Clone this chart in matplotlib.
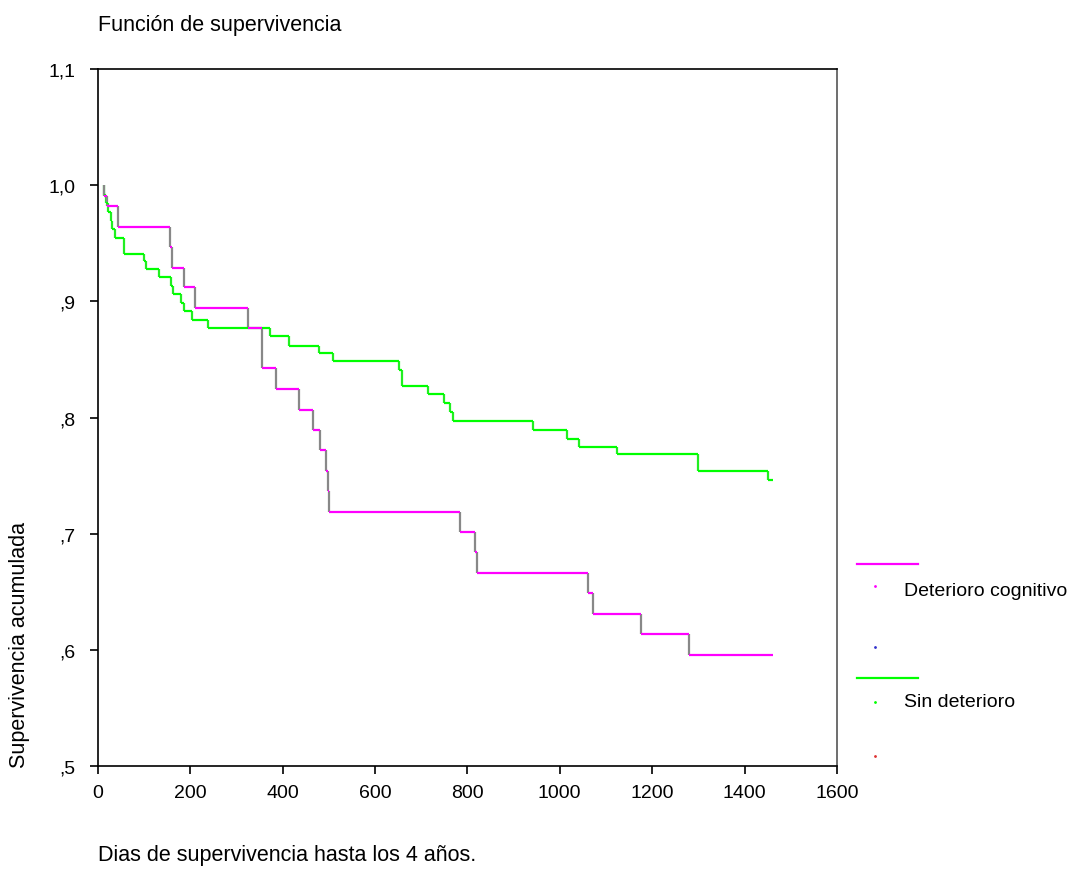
import matplotlib
matplotlib.use("Agg")
import matplotlib.pyplot as plt
from matplotlib.lines import Line2D

plt.rcParams['font.family'] = ['Liberation Sans', 'DejaVu Sans']

# ---- data ----
title = "Función de supervivencia"
xlabel = "Dias de supervivencia hasta los 4 años."
ylabel = "Supervivencia acumulada"
series_names = ["Deterioro cognitivo", "Sin deterioro"]

# Deterioro cognitivo: start (time, 1.0), then event times and survival after each event
det_start = 14
det_times = [14, 21, 45, 156, 160, 186, 210, 326, 356, 387, 436, 467, 482, 494, 498, 501,
             784, 817, 822, 1062, 1073, 1175, 1280]
det_surv = [0.991, 0.982, 0.964, 0.947, 0.929, 0.912, 0.894, 0.877, 0.843, 0.825, 0.807, 0.789,
            0.772, 0.754, 0.737, 0.719, 0.702, 0.684, 0.666, 0.649, 0.631, 0.614, 0.596]
det_end = 1462

sin_start = 14
sin_times = [14, 17, 22, 28, 32, 37, 57, 100, 104, 133, 158, 164, 181, 186, 205, 239,
             374, 413, 480, 510, 653, 659, 715, 749, 762, 768, 942, 1015, 1042, 1124,
             1300, 1451]
sin_surv = [0.992, 0.985, 0.977, 0.969, 0.962, 0.955, 0.941, 0.935, 0.928, 0.921, 0.913,
            0.906, 0.899, 0.892, 0.884, 0.877, 0.870, 0.862, 0.856, 0.849, 0.841, 0.827,
            0.820, 0.813, 0.805, 0.797, 0.789, 0.782, 0.775, 0.769, 0.754, 0.746]
sin_end = 1461

xticks = [0, 200, 400, 600, 800, 1000, 1200, 1400, 1600]
yticks = [0.5, 0.6, 0.7, 0.8, 0.9, 1.0, 1.1]
ytick_labels = [",5", ",6", ",7", ",8", ",9", "1,0", "1,1"]

# ---- figure ----
W, H = 1068, 870
fig = plt.figure(figsize=(W / 100, H / 100), dpi=100)

def fx(px):
    return px / W

def fy(py):
    return 1 - py / H

ax_l, ax_r, ax_t, ax_b = 97.7, 836.9, 70.0, 767.3
ax = fig.add_axes([fx(ax_l), fy(ax_b), fx(ax_r - ax_l), (ax_b - ax_t) / H])
ax.set_xlim(0, 1600)
ax.set_ylim(0.5, 1.1)

def draw_km(ax, start, times, surv, end, color, vcolor):
    levels = [1.0] + list(surv)
    xs_h_start = [start] + list(times)
    xs_h_end = list(times) + [end]
    ax.hlines(levels, xs_h_start, xs_h_end, colors=color, lw=1.6, zorder=3)
    ax.vlines(times, levels[:-1], levels[1:], colors=vcolor, lw=1.6, zorder=2)

draw_km(ax, sin_start, sin_times, sin_surv, sin_end, "#00ff00", "#22ee22")
draw_km(ax, det_start, det_times, det_surv, det_end, "#ff00ff", "#888888")

for s in ax.spines.values():
    s.set_linewidth(1.2)
    s.set_color("black")
ax.spines['right'].set_color("#555555")

ax.set_xticks(xticks)
ax.set_xticklabels([str(v) for v in xticks])
ax.set_yticks(yticks)
ax.set_yticklabels(ytick_labels)
ax.tick_params(direction='out', length=6, width=1.2, labelsize=14, colors='black')
ax.tick_params(axis='y', pad=10)
ax.tick_params(axis='x', pad=7)

# titles / labels
fig.text(fx(97.7), fy(26), title, ha='left', va='center', fontsize=15.5)
fig.text(fx(97.7), fy(856), xlabel, ha='left', va='center', fontsize=15.5)
fig.text(fx(20), fy(768), ylabel, ha='center', va='bottom', rotation=90, fontsize=15.5)

# legend (SPSS style)
leg_items = [
    (565, 592, "#ff00ff", series_names[0]),
    (679, 703, "#00ff00", series_names[1]),
]
for ly, ty, col, name in leg_items:
    fig.add_artist(Line2D([fx(857), fx(918)], [fy(ly), fy(ly)], color=col, lw=1.6))
    fig.add_artist(Line2D([fx(875)], [fy(ty - 5 if col == "#ff00ff" else ty)], marker='.',
                          markersize=2, color=col, lw=0))
    fig.text(fx(904), fy(ty), name, ha='left', va='center', fontsize=14)
fig.add_artist(Line2D([fx(875)], [fy(648)], marker='.', markersize=2, color="#3333cc", lw=0))
fig.add_artist(Line2D([fx(875)], [fy(757)], marker='.', markersize=2, color="#dd3333", lw=0))

fig.savefig("out.png", dpi=100)
